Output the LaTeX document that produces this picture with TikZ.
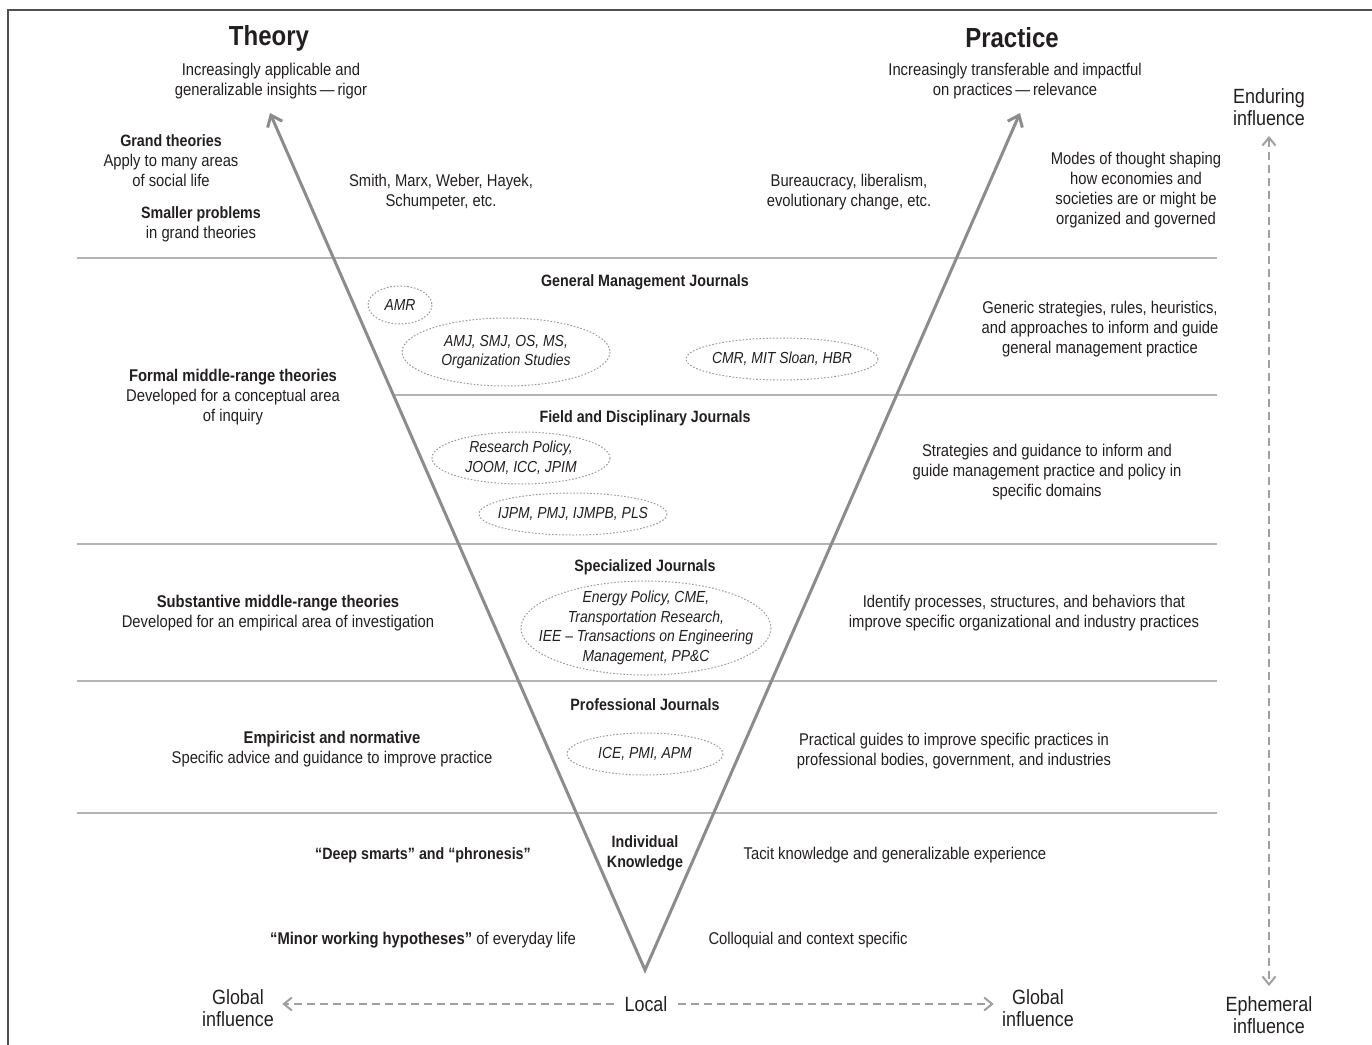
\documentclass[tikz,border=0pt]{standalone}
\usepackage{fontspec}
\setmainfont{Liberation Sans}[FakeStretch=0.87]
\usetikzlibrary{arrows.meta,shapes.geometric}
\definecolor{ink}{HTML}{231F20}
\definecolor{vgray}{HTML}{8C8C8C}
\definecolor{sepgray}{HTML}{B4B4B4}
\definecolor{dgray}{HTML}{A0A0A0}
\definecolor{framegray}{HTML}{505050}
\definecolor{ellgray}{HTML}{9A9A9A}
\tikzset{
  txt/.style={font=\fontsize{8.5}{10}\selectfont, align=center, text=ink, inner sep=0pt},
  bld/.style={txt, font=\fontsize{8.2}{10}\selectfont\bfseries},
  big/.style={txt, font=\fontsize{13.8}{16}\selectfont\bfseries},
  infl/.style={txt, font=\fontsize{10.3}{11}\selectfont},
  jtxt/.style={txt, font=\fontsize{8.0}{9.8}\selectfont\itshape},
  ell/.style={draw=ellgray, line width=0.5pt, dash pattern=on 0.8pt off 0.9pt},
  sepline/.style={draw=sepgray, line width=0.75pt},
  varrow/.style={draw=vgray, line width=1.5pt, {Straight Barb[length=5pt,width=8pt]}-{Straight Barb[length=5pt,width=8pt]}},
  dasharrow/.style={draw=dgray, line width=1pt, dash pattern=on 4pt off 2.5pt, -{Straight Barb[length=4pt,width=6.5pt]}},
  dashboth/.style={draw=dgray, line width=1pt, dash pattern=on 4pt off 2.5pt, {Straight Barb[length=4pt,width=6.5pt]}-{Straight Barb[length=4pt,width=6.5pt]}},
}
\begin{document}
\begin{tikzpicture}[x=0.5pt,y=-0.5pt]
\useasboundingbox (0,0) rectangle (1372,1045);
% frame
\draw[framegray, line width=1.3pt] (8,1045) -- (8,10) -- (1372,10);

% separators
\draw[sepline] (77,258) -- (1217,258);
\draw[sepline] (393,395) -- (1217,395);
\draw[sepline] (77,544) -- (1217,544);
\draw[sepline] (77,681) -- (1217,681);
\draw[sepline] (77,813) -- (1217,813);

% V
\coordinate (apex) at (645,970);
\coordinate (tipL) at (270,113);
\coordinate (tipR) at (1020,113);
\draw[varrow] (tipL) -- (apex) -- (tipR);

% headings
\node[big] (theory) at (269,38) {Theory};
\node[txt] (theorysub) at (271,81) {Increasingly applicable and\\generalizable insights\,—\,rigor};
\node[big] (practice) at (1012,38) {Practice};
\node[txt] (practicesub) at (1015,81) {Increasingly transferable and impactful\\on practices\,—\,relevance};
\node[infl, inner sep=5pt] (endur) at (1269,107) {Enduring\\influence};
\node[infl, inner sep=5pt] (ephem) at (1269,1015) {Ephemeral\\influence};
\draw[dashboth] (endur.south) -- (ephem.north);

% band 1
\node[bld] (grand) at (171,141) {Grand theories};
\node[txt] (grandsub) at (171,170) {Apply to many areas\\of social life};
\node[bld] (smaller) at (201,214) {Smaller problems};
\node[txt] (smallersub) at (201,234) {in grand theories};
\node[txt] (smith) at (441,192) {Smith, Marx, Weber, Hayek,\\Schumpeter, etc.};
\node[txt] (bureau) at (849,192) {Bureaucracy, liberalism,\\evolutionary change, etc.};
\node[txt] (modes) at (1136,190) {Modes of thought shaping\\how economies and\\societies are or might be\\organized and governed};

% band 2
\node[bld] (gmj) at (645,282) {General Management Journals};
\node[jtxt] (amr) at (400,305) {AMR};
\draw[ell] (amr) ellipse [x radius=32, y radius=19];
\node[jtxt] (amj) at (506,352) {AMJ, SMJ, OS, MS,\\Organization Studies};
\draw[ell] (amj) ellipse [x radius=104, y radius=34];
\node[jtxt] (cmr) at (782,359) {CMR, MIT Sloan, HBR};
\draw[ell] (cmr) ellipse [x radius=96, y radius=21];
\node[txt] (generic) at (1100,329) {Generic strategies, rules, heuristics,\\and approaches to inform and guide\\general management practice};
\node[txt] (formal) at (233,397) {\textbf{Formal middle-range theories}\\Developed for a conceptual area\\of inquiry};

% band 3
\node[bld] (fdj) at (645,418) {Field and Disciplinary Journals};
\node[jtxt] (rp) at (521,458) {Research Policy,\\JOOM, ICC, JPIM};
\draw[ell] (rp) ellipse [x radius=89, y radius=26];
\node[jtxt] (ijpm) at (573,514) {IJPM, PMJ, IJMPB, PLS};
\draw[ell] (ijpm) ellipse [x radius=94, y radius=21];
\node[txt] (strat) at (1047,472) {Strategies and guidance to inform and\\guide management practice and policy in\\specific domains};

% band 4
\node[bld] (spj) at (645,567) {Specialized Journals};
\node[jtxt] (energy) at (646,628) {Energy Policy, CME,\\Transportation Research,\\IEE – Transactions on Engineering\\Management, PP\&C};
\draw[ell] (energy) ellipse [x radius=125, y radius=47];
\node[txt] (subst) at (278,613) {\textbf{Substantive middle-range theories}\\Developed for an empirical area of investigation};
\node[txt] (identify) at (1024,613) {Identify processes, structures, and behaviors that\\improve specific organizational and industry practices};

% band 5
\node[bld] (prj) at (645,705) {Professional Journals};
\node[jtxt] (ice) at (645,754) {ICE, PMI, APM};
\draw[ell] (ice) ellipse [x radius=78, y radius=21];
\node[txt] (empir) at (332,749) {\textbf{Empiricist and normative}\\Specific advice and guidance to improve practice};
\node[txt] (practical) at (954,751) {Practical guides to improve specific practices in\\professional bodies, government, and industries};

% band 6
\node[bld] (indiv) at (645,853) {Individual\\Knowledge};
\node[bld] (deep) at (423,855) {“Deep smarts” and “phronesis”};
\node[txt] (tacit) at (895,855) {Tacit knowledge and generalizable experience};
\node[txt] (minor) at (423,940) {\textbf{“Minor working hypotheses”} of everyday life};
\node[txt] (colloq) at (808,940) {Colloquial and context specific};

% bottom axis
\node[infl, inner xsep=5pt] (local) at (646,1004) {Local};
\node[infl, inner xsep=4pt] (globL) at (238,1008) {Global\\influence};
\node[infl, inner xsep=4pt] (globR) at (1038,1008) {Global\\influence};
\draw[dasharrow] (local.west) -- (globL.east |- local.west);
\draw[dasharrow] (local.east) -- (globR.west |- local.east);
\end{tikzpicture}
\end{document}
